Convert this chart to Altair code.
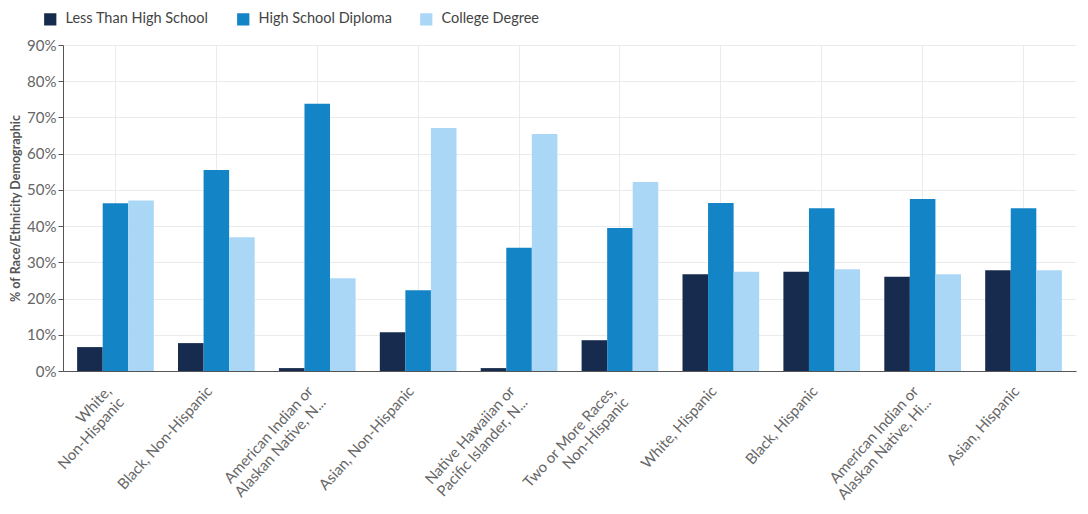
import altair as alt
import pandas as pd

categories = [
    "White,\nNon-Hispanic",
    "Black, Non-Hispanic",
    "American Indian or\nAlaskan Native, N...",
    "Asian, Non-Hispanic",
    "Native Hawaiian or\nPacific Islander, N...",
    "Two or More Races,\nNon-Hispanic",
    "White, Hispanic",
    "Black, Hispanic",
    "American Indian or\nAlaskan Native, Hi...",
    "Asian, Hispanic",
]
series = ["Less Than High School", "High School Diploma", "College Degree"]
less_hs = [6.6, 7.7, 0.8, 10.7, 0.8, 8.5, 26.7, 27.4, 26.0, 27.8]
hs_diploma = [46.3, 55.5, 73.8, 22.3, 34.0, 39.5, 46.4, 44.9, 47.5, 44.9]
college = [47.1, 36.9, 25.6, 67.1, 65.4, 52.2, 27.4, 28.1, 26.7, 27.8]
colors = ["#172b4f", "#1384c6", "#abd7f7"]
y_ticks = [0, 10, 20, 30, 40, 50, 60, 70, 80, 90]

rows = []
for s, vals in zip(series, [less_hs, hs_diploma, college]):
    for c, v in zip(categories, vals):
        rows.append({"category": c, "series": s, "value": v})
df = pd.DataFrame(rows)

FONT = "Lato"

chart = alt.Chart(df).mark_bar().encode(
    x=alt.X(
        "category:N", sort=categories, title=None,
        scale=alt.Scale(paddingInner=0.24, paddingOuter=0.14),
        axis=alt.Axis(
            labelAngle=-48, labelAlign="right", labelBaseline="middle",
            labelExpr="split(datum.label, '\\n')",
            labelFontSize=15, labelColor="#666666", labelFont=FONT,
            labelLineHeight=17, ticks=False, grid=True, gridColor="#ebebeb",
            bandPosition=0.5, domainColor="#555555", labelPadding=17,
            labelOffset=-7, labelOverlap=False, labelLimit=300,
        ),
    ),
    xOffset=alt.XOffset("series:N", sort=series),
    y=alt.Y(
        "value:Q", scale=alt.Scale(domain=[0, 90], nice=False),
        axis=alt.Axis(
            values=y_ticks, labelExpr="datum.value + '%'",
            title="% of Race/Ethnicity Demographic",
            titleFont=FONT, titleFontSize=12.5, titleFontWeight="bold",
            titleColor="#555555", titlePadding=4,
            labelFont=FONT, labelFontSize=15, labelColor="#666666",
            labelPadding=2, tickSize=5, tickColor="#555555",
            domainColor="#555555", gridColor="#ebebeb",
        ),
    ),
    color=alt.Color(
        "series:N", sort=series,
        scale=alt.Scale(domain=series, range=colors),
        legend=alt.Legend(
            title=None, orient="none", legendX=-20, legendY=-33,
            direction="horizontal", symbolType="square", symbolSize=150,
            symbolStrokeWidth=0, symbolOpacity=1,
            labelFont=FONT, labelFontSize=14.5, labelColor="#444444",
            columnPadding=27, labelOffset=8, padding=0,
        ),
    ),
).properties(
    width=1013, height=326,
    autosize=alt.AutoSizeParams(type="none"),
    padding={"left": 55, "top": 37, "right": 4, "bottom": 140},
).configure_view(stroke=None)

chart.save("out.html", embed_options={"renderer": "svg", "actions": False})
